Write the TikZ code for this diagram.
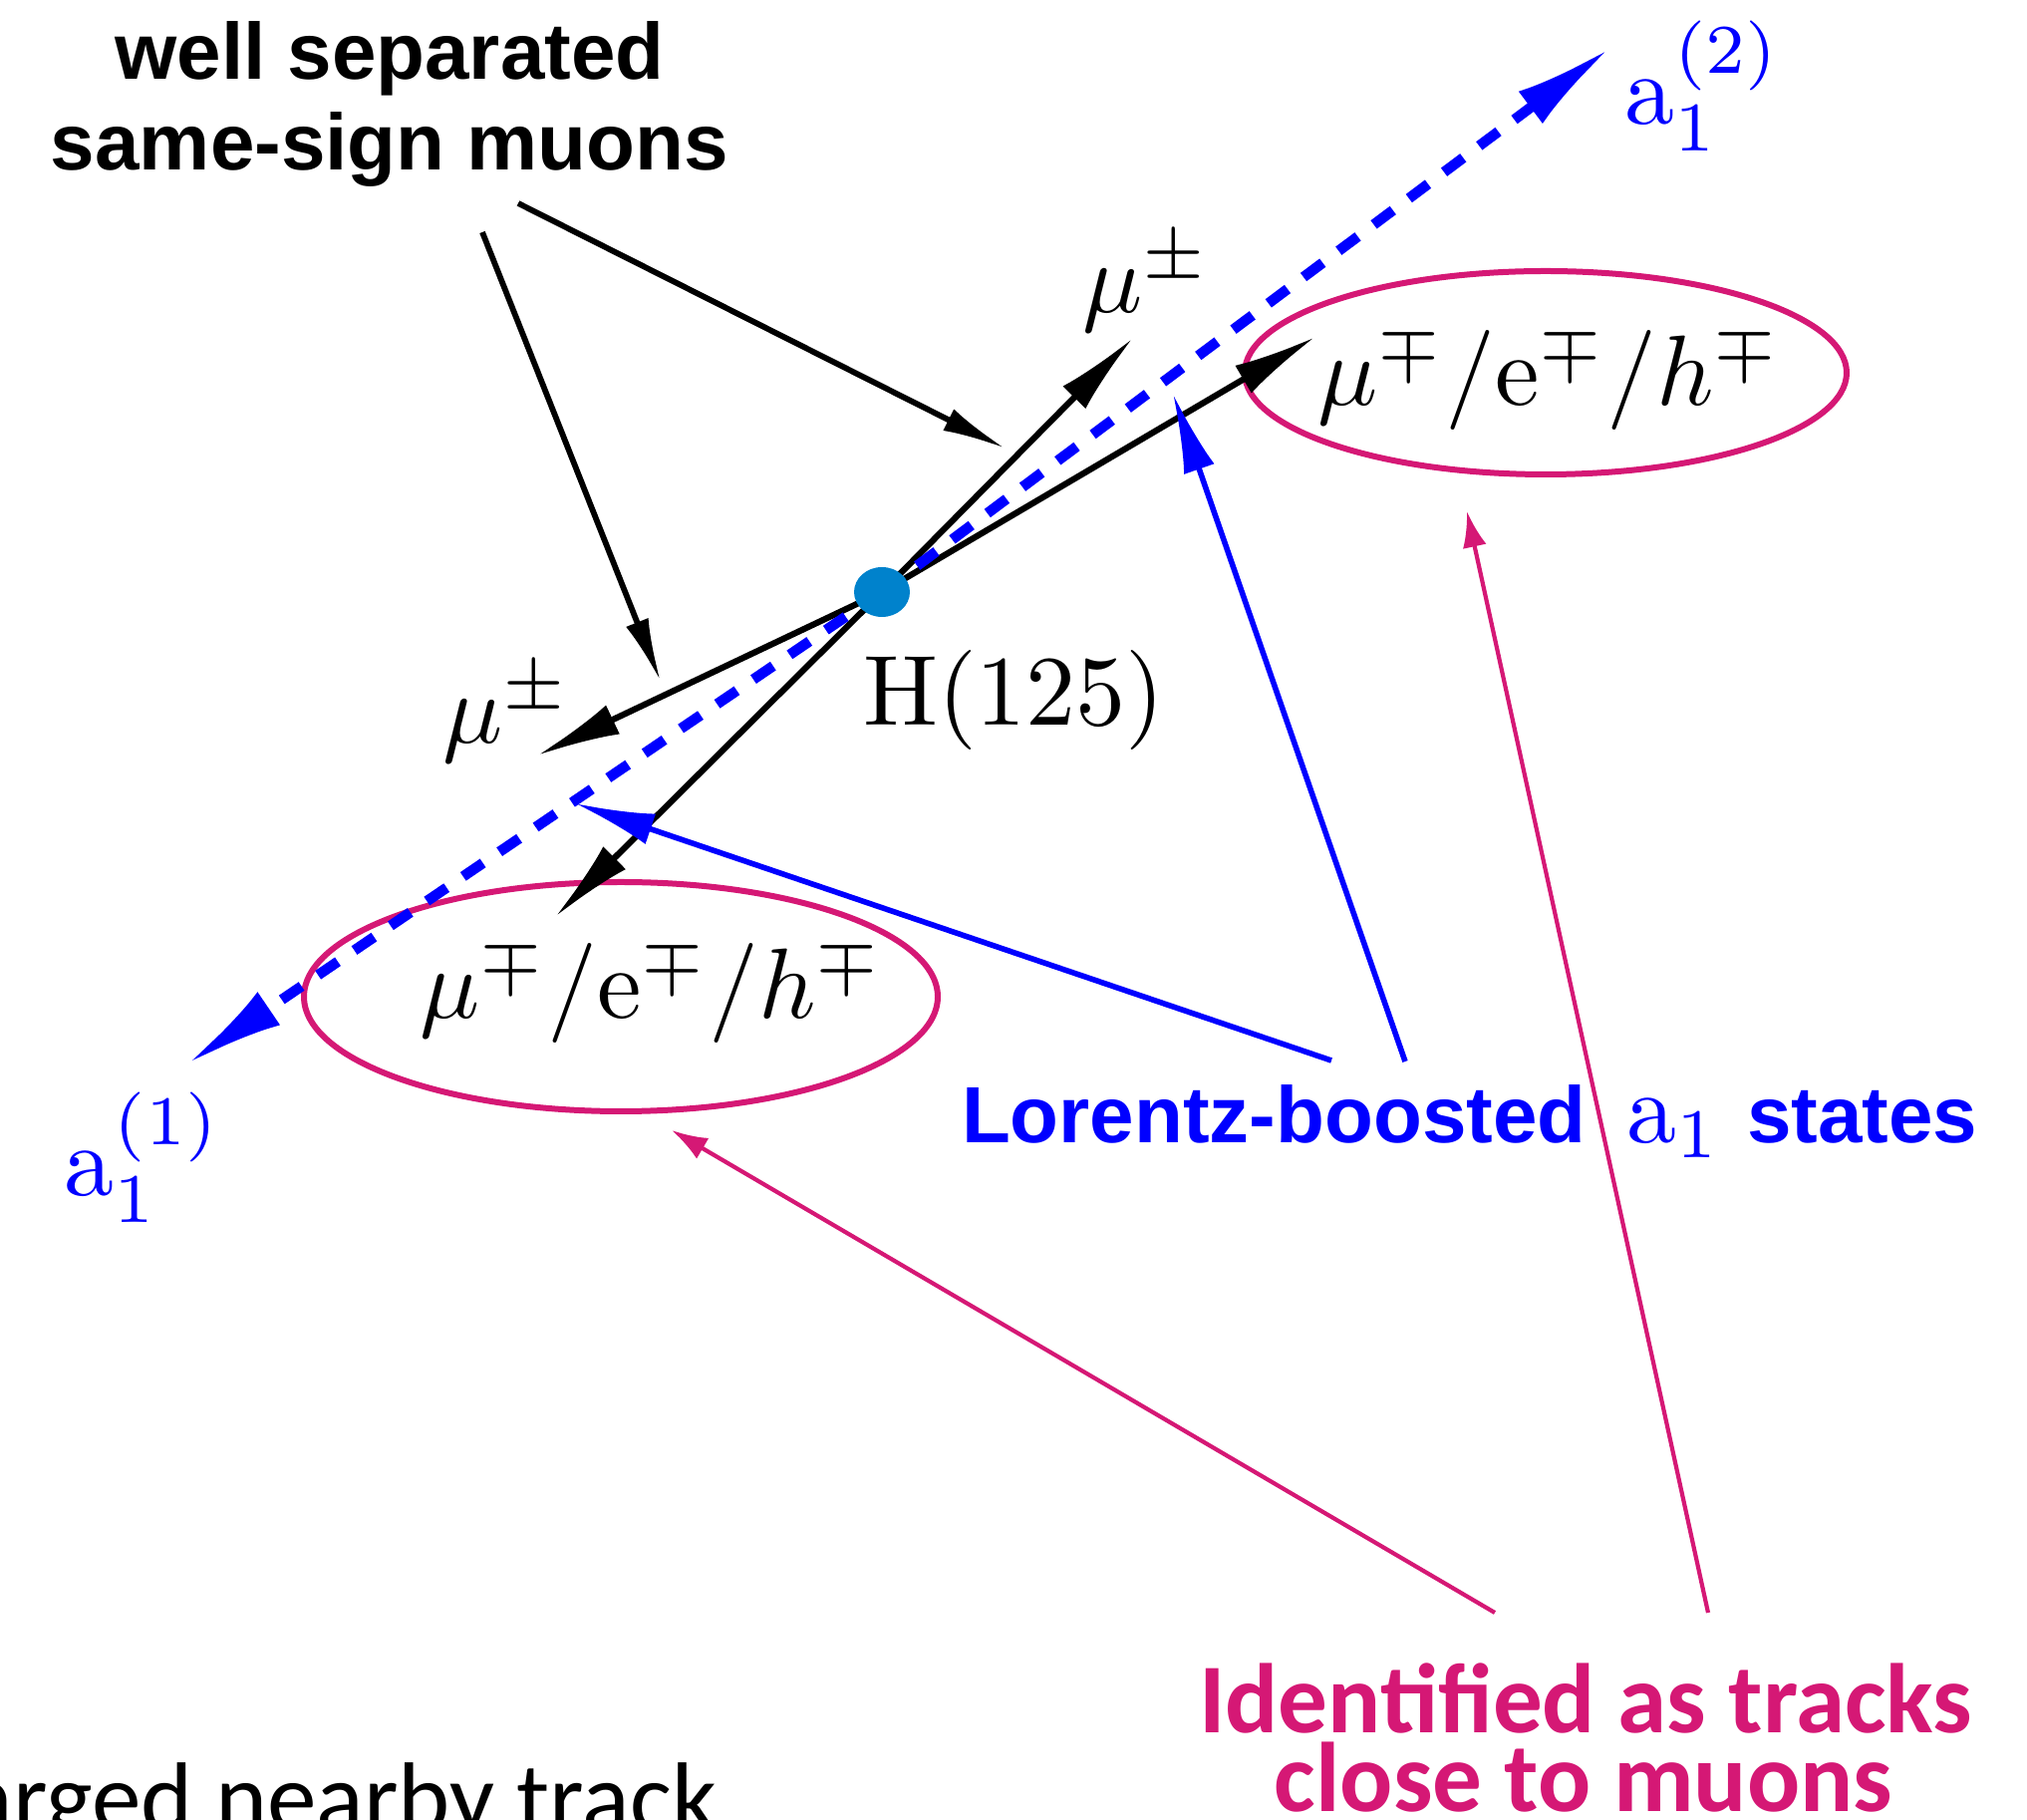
\documentclass[tikz,border=0pt]{standalone}
\usepackage{graphicx}
\usepackage{fontspec}
\newfontfamily\arialf{Liberation Sans}
\newfontfamily\calf{Carlito}
\usetikzlibrary{arrows.meta,shapes.geometric}
\definecolor{ablue}{RGB}{0,0,255}
\definecolor{mag}{RGB}{213,24,117}
\definecolor{dotc}{RGB}{0,130,204}
\newcommand\mlab[1]{\scalebox{2.5}{\fontsize{10}{12}\selectfont$#1$}}
\begin{document}
\begin{tikzpicture}[x=0.25pt,y=-0.25pt,
  lbl/.style={inner sep=0pt, outer sep=0pt},
  hdr/.style={lbl, font=\arialf\bfseries\fontsize{20}{24}\selectfont},
  lor/.style={lbl, text=ablue, font=\arialf\bfseries\fontsize{20}{24}\selectfont},
  mth/.style={lbl},
  idf/.style={lbl, text=mag, font=\calf\bfseries\fontsize{24.8}{28}\selectfont},
  track/.style={line width=1.55pt, -{Latex[length=21pt,width=8pt]}},
  pointer/.style={line width=1.45pt, -{Latex[length=16pt,width=6pt]}},
  aline/.style={ablue, line width=2.6pt, dash pattern=on 6pt off 5pt, -{Latex[length=25pt,width=10pt]}},
  lorarrow/.style={ablue, line width=1.4pt, -{Latex[length=20pt,width=8pt]}},
  magarrow/.style={mag, line width=1.05pt, -{Latex[length=9pt,width=6pt]}},
  ell/.style={draw=mag, line width=1.5pt, ellipse, inner sep=0pt},
  dot/.style={ellipse, fill=dotc, minimum width=14pt, minimum height=12.5pt, inner sep=0pt}]
\useasboundingbox (0,0) rectangle (2034,1826);

% header text
\node[hdr, anchor=base] (t1) at (391,80) {well separated};
\node[hdr, anchor=base] (t2) at (391,171) {same-sign muons};

% ellipses
\node[ell, minimum width=151pt, minimum height=51pt] (eU) at (1551,374) {};
\node[ell, minimum width=159pt, minimum height=57.5pt] (eL) at (623,1000) {};

% coordinates
\coordinate (s1) at (484,233);
\coordinate (e1) at (663,684);
\coordinate (s2) at (520,204);
\coordinate (e2) at (1009,450);
\coordinate (mUp) at (1137,339);
\coordinate (mR) at (1320,338);
\coordinate (mL) at (539,758);
\coordinate (mD) at (557,920);
\coordinate (aTwo) at (1616,48);
\coordinate (aOne) at (187,1068);
\coordinate (b1) at (1336,1064);
\coordinate (b1t) at (577,806);
\coordinate (b2) at (1410,1065);
\coordinate (b2t) at (1177,395);
\coordinate (p1) at (1500,1618);
\coordinate (p1t) at (674,1134);
\coordinate (p2) at (1714,1618);
\coordinate (p2t) at (1472,513);
\coordinate (Hc) at (885,594);

% pointers from header
\draw[pointer] (s1) -- (e1);
\draw[pointer] (s2) -- (e2);

% tracks
\draw[track] (Hc) -- (mUp);
\draw[track] (Hc) -- (mR);
\draw[track] (Hc) -- (mL);
\draw[track] (Hc) -- (mD);

% a1 directions
\draw[aline] (Hc) -- (aTwo);
\draw[aline] (Hc) -- (aOne);

% Lorentz arrows
\draw[lorarrow] (b1) -- (b1t);
\draw[lorarrow] (b2) -- (b2t);

% magenta arrows
\draw[magarrow] (p1) -- (p1t);
\draw[magarrow] (p2) -- (p2t);

% vertex
\node[dot] (H) at (Hc) {};

% labels
\node[mth, anchor=base west] (Hl) at (866,728) {\mlab{\mathrm{H}(125)}};
\node[mth, anchor=base west] (muU) at (1086,314) {\mlab{\mu^\pm}};
\node[mth, anchor=base west] (muL) at (444,746) {\mlab{\mu^\pm}};
\node[mth, anchor=base] (lU) at (1555,407) {\mlab{\mu^\mp/\mathrm{e}^\mp/h^\mp}};
\node[mth, anchor=base] (lL) at (654,1022) {\mlab{\mu^\mp/\mathrm{e}^\mp/h^\mp}};
\node[mth, text=ablue, anchor=base west] (A2) at (1630,125) {\mlab{\mathrm{a}_1^{(2)}}};
\node[mth, text=ablue, anchor=base west] (A1) at (65,1200) {\mlab{\mathrm{a}_1^{(1)}}};

\node[lor, anchor=base west] (lz1) at (965,1147) {Lorentz-boosted};
\node[mth, text=ablue, anchor=base west] (lz2) at (1632,1147) {\mlab{\mathrm{a}_1}};
\node[lor, anchor=base west] (lz3) at (1753,1147) {states};

\node[idf, anchor=base] (i1) at (1591,1738) {Identified as tracks};
\node[idf, anchor=base] (i2) at (1589,1817) {close to muons};

\node[lbl, font=\calf\fontsize{24.8}{28}\selectfont, anchor=base east] (bt) at (719,1837) {arged nearby track};
\end{tikzpicture}
\end{document}
